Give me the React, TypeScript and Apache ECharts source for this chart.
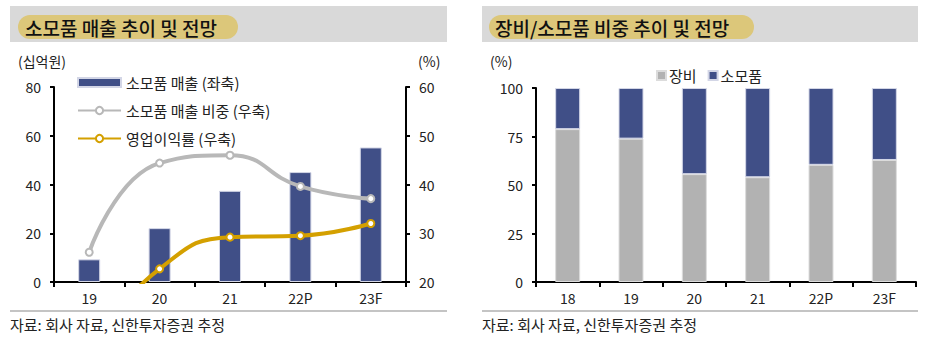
import React, { useEffect, useRef } from "react";
import * as echarts from "echarts";

const leftCategories = ["19", "20", "21", "22P", "23F"];
const consumableSales = [9.3, 22.1, 37.4, 45.1, 55.2];
const consumableShare = [26.1, 44.4, 46.0, 39.6, 37.1];
const operatingMargin = [7.0, 22.7, 29.2, 29.5, 32.0];

const rightCategories = ["18", "19", "20", "21", "22P", "23F"];
const equipmentShare = [78.8, 73.9, 55.6, 54.0, 60.4, 62.9];
const consumableShareStack = [21.2, 26.1, 44.4, 46.0, 39.6, 37.1];

const leftTitle = "소모품 매출 추이 및 전망";
const rightTitle = "장비/소모품 비중 추이 및 전망";
const sourceText = "자료: 회사 자료, 신한투자증권 추정";

const FONT = "'Noto Sans CJK KR', 'Noto Sans', sans-serif";
const NAVY = "#404f87";
const GRAY_LINE = "#b8b8b8";
const GOLD = "#d4a000";
const GRAY_BAR = "#b2b2b2";
const TEXT = "#222222";

export default function App() {
  const ref = useRef<HTMLDivElement>(null);
  useEffect(() => {
    if (!ref.current) return;
    const chart = echarts.init(ref.current, undefined, { renderer: "svg" });
    const axisLine = { show: true, lineStyle: { color: "#000", width: 2 } };
    const axisTick = { show: true, inside: false, length: 4, lineStyle: { color: "#000", width: 2 } };
    const axisLabel = { color: TEXT, fontSize: 14, fontFamily: FONT, margin: 13 };
    const option: any = {
      animation: false,
      textStyle: { fontFamily: FONT },
      graphic: [
        { type: "rect", shape: { x: 10, y: 6, width: 437, height: 36 }, style: { fill: "#d9d9d9" } },
        { type: "rect", shape: { x: 18, y: 15, width: 220, height: 24, r: 12 }, style: { fill: "#dcc77a" } },
        { type: "text", x: 25, y: 27, style: { text: leftTitle, font: `500 19px ${FONT}`, fill: "#111", verticalAlign: "middle" } },
        { type: "rect", shape: { x: 482, y: 6, width: 436, height: 36 }, style: { fill: "#d9d9d9" } },
        { type: "rect", shape: { x: 489, y: 15, width: 265, height: 24, r: 12 }, style: { fill: "#dcc77a" } },
        { type: "text", x: 495, y: 27, style: { text: rightTitle, font: `500 19px ${FONT}`, fill: "#111", verticalAlign: "middle" } },
        { type: "text", x: 18, y: 61, style: { text: "(십억원)", font: `14px ${FONT}`, fill: TEXT, verticalAlign: "middle" } },
        { type: "text", x: 418, y: 61, style: { text: "(%)", font: `14px ${FONT}`, fill: TEXT, verticalAlign: "middle" } },
        { type: "text", x: 490, y: 61, style: { text: "(%)", font: `14px ${FONT}`, fill: TEXT, verticalAlign: "middle" } },
        { type: "line", shape: { x1: 10, y1: 311, x2: 447, y2: 311 }, style: { stroke: "#b0b0b0", lineWidth: 1.5 } },
        { type: "line", shape: { x1: 482, y1: 311, x2: 918, y2: 311 }, style: { stroke: "#b0b0b0", lineWidth: 1.5 } },
        { type: "text", x: 10, y: 324, style: { text: sourceText, font: `15px ${FONT}`, fill: TEXT, verticalAlign: "middle" } },
        { type: "text", x: 482, y: 324, style: { text: sourceText, font: `15px ${FONT}`, fill: TEXT, verticalAlign: "middle" } },
      ],
      legend: [
        {
          orient: "vertical",
          left: 72,
          top: 70,
          itemWidth: 43,
          itemHeight: 9,
          itemGap: 13,
          textStyle: { color: TEXT, fontSize: 15, fontFamily: FONT },
          data: [
            { name: "소모품 매출 (좌축)", icon: "rect" },
            { name: "소모품 매출 비중 (우축)" },
            { name: "영업이익률 (우축)" },
          ],
        },
        {
          orient: "horizontal",
          left: 651,
          top: 63,
          itemWidth: 9,
          itemHeight: 9,
          itemGap: 11,
          textStyle: { color: TEXT, fontSize: 15, fontFamily: FONT, padding: [0, 0, 0, -2] },
          data: [
            { name: "장비", icon: "rect" },
            { name: "소모품", icon: "rect" },
          ],
        },
      ],
      grid: [
        { left: 54, right: 530, top: 87, bottom: 69 },
        { left: 536, right: 20, top: 88, bottom: 69 },
      ],
      xAxis: [
        {
          type: "category",
          gridIndex: 0,
          data: leftCategories,
          axisLine,
          axisTick: { ...axisTick, length: 5, alignWithLabel: false },
          axisLabel: { ...axisLabel, margin: 9 },
        },
        {
          type: "category",
          gridIndex: 1,
          data: rightCategories,
          axisLine,
          axisTick: { ...axisTick, length: 5, alignWithLabel: false },
          axisLabel: { ...axisLabel, margin: 9 },
        },
      ],
      yAxis: [
        {
          type: "value",
          gridIndex: 0,
          min: 0,
          max: 80,
          interval: 20,
          axisLine,
          axisTick,
          axisLabel,
          splitLine: { show: false },
        },
        {
          type: "value",
          gridIndex: 0,
          position: "right",
          min: 20,
          max: 60,
          interval: 10,
          axisLine,
          axisTick,
          axisLabel,
          splitLine: { show: false },
        },
        {
          type: "value",
          gridIndex: 1,
          min: 0,
          max: 100,
          interval: 25,
          axisLine,
          axisTick,
          axisLabel,
          splitLine: { show: false },
        },
      ],
      series: [
        {
          name: "소모품 매출 (좌축)",
          type: "bar",
          xAxisIndex: 0,
          yAxisIndex: 0,
          data: consumableSales,
          barWidth: 22,
          itemStyle: { color: NAVY, borderColor: "#d3d6e6", borderWidth: 1 },
          z: 2,
        },
        {
          name: "소모품 매출 비중 (우축)",
          type: "line",
          xAxisIndex: 0,
          yAxisIndex: 1,
          data: consumableShare,
          smooth: 0.5,
          symbol: "circle",
          symbolSize: 7,
          lineStyle: { color: GRAY_LINE, width: 4 },
          itemStyle: { color: "#fff", borderColor: GRAY_LINE, borderWidth: 2 },
          z: 3,
        },
        {
          name: "영업이익률 (우축)",
          type: "line",
          xAxisIndex: 0,
          yAxisIndex: 1,
          data: operatingMargin,
          smooth: 0.5,
          clip: true,
          symbol: "circle",
          symbolSize: 7,
          lineStyle: { color: GOLD, width: 4 },
          itemStyle: { color: "#fff", borderColor: GOLD, borderWidth: 2 },
          z: 4,
        },
        {
          name: "장비",
          type: "bar",
          xAxisIndex: 1,
          yAxisIndex: 2,
          stack: "share",
          data: equipmentShare,
          barWidth: 25,
          itemStyle: { color: GRAY_BAR, borderColor: "#dcdcdc", borderWidth: 1 },
        },
        {
          name: "소모품",
          type: "bar",
          xAxisIndex: 1,
          yAxisIndex: 2,
          stack: "share",
          data: consumableShareStack,
          barWidth: 25,
          itemStyle: { color: NAVY, borderColor: "#d3d6e6", borderWidth: 1 },
        },
      ],
    };
    chart.setOption(option);
    return () => chart.dispose();
  }, []);
  return (
    <div
      ref={ref}
      style={{ position: "absolute", left: 0, top: 0, width: 936, height: 351, background: "#fff" }}
    />
  );
}
